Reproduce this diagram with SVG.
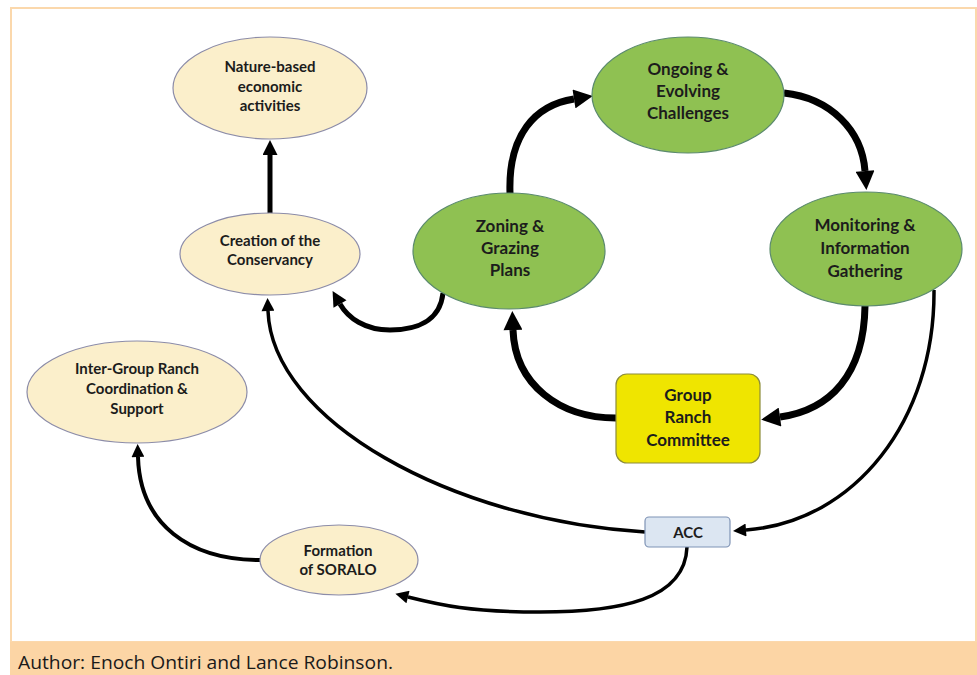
<svg xmlns="http://www.w3.org/2000/svg" width="977" height="675" viewBox="0 0 977 675">
<style>
.beige{fill:#FBEFCB;stroke:#8C8CA8;stroke-width:1.2}
.green{fill:#8FC152;stroke:#5B8A6E;stroke-width:1.2}
.t{font-family:Lato,"Open Sans","Liberation Sans",sans-serif;font-weight:bold;fill:#1c1c1c;text-anchor:middle}
.s14{font-size:15px}
.s16{font-size:17px}
.c{fill:none;stroke:#000;stroke-linecap:butt}
.w7{stroke-width:7}
.w5{stroke-width:5}
.w35{stroke-width:3.5}
</style>
<defs>
<marker id="aL" markerUnits="userSpaceOnUse" viewBox="0 0 10 10" refX="0" refY="5" markerWidth="20" markerHeight="19" orient="auto"><path d="M0,0 L10,5 L0,10 z" fill="#000"/></marker>
<marker id="aM" markerUnits="userSpaceOnUse" viewBox="0 0 10 10" refX="0" refY="5" markerWidth="16" markerHeight="15" orient="auto"><path d="M0,0 L10,5 L0,10 z" fill="#000"/></marker>
<marker id="aS" markerUnits="userSpaceOnUse" viewBox="0 0 10 10" refX="0" refY="5" markerWidth="14" markerHeight="13" orient="auto"><path d="M0,0 L10,5 L0,10 z" fill="#000"/></marker>
</defs>
<rect x="0" y="0" width="977" height="675" fill="#fff"/>
<rect x="11" y="8" width="965" height="634" fill="#fff" stroke="#FBD8AC" stroke-width="2"/>
<g id="footer">
<rect x="10" y="642" width="967" height="33" fill="#FCD5A5"/>
<text x="18" y="669" font-family="'Open Sans','Noto Sans','Liberation Sans',sans-serif" font-size="19" fill="#1a1a1a" textLength="375" lengthAdjust="spacingAndGlyphs">Author: Enoch Ontiri and Lance Robinson.</text>
</g>
<g id="connectors">
<path class="c w5" d="M270,214 L270,155" marker-end="url(#aM)"/>
<path class="c w7" d="M510,193 C508,135 535,105 574,99" marker-end="url(#aL)"/>
<path class="c w7" d="M784,93 C830,98 862,130 865,171" marker-end="url(#aL)"/>
<path class="c w7" d="M865,306 C864,375 830,410 780,417" marker-end="url(#aL)"/>
<path class="c w7" d="M616,418 C560,418 515,385 513,330" marker-end="url(#aL)"/>
<path class="c w5" d="M443,293 C440,322 415,330 390,330 C365,330 348,318 340,304" marker-end="url(#aM)"/>
<path class="c w35" d="M645,532 C450,520 272,420 268,311" marker-end="url(#aS)"/>
<path class="c w35" d="M934,290 C935,420 855,522 746,530" marker-end="url(#aS)"/>
<path class="c w35" d="M687,547 C685,600 620,612 540,612 C470,612 440,605 408,597" marker-end="url(#aS)"/>
<path class="c" stroke-width="4" d="M260,560 C190,560 140,525 138,457" marker-end="url(#aS)"/>
</g>
<g id="nature">
<ellipse class="beige" cx="270" cy="88" rx="97" ry="51"/>
<text class="t s14" x="270" y="72">Nature-based</text>
<text class="t s14" x="270" y="92">economic</text>
<text class="t s14" x="270" y="111">activities</text>
</g>
<g id="creation">
<ellipse class="beige" cx="270" cy="254" rx="90" ry="41"/>
<text class="t s14" x="270" y="246">Creation of the</text>
<text class="t s14" x="270" y="265">Conservancy</text>
</g>
<g id="ongoing">
<ellipse class="green" cx="688" cy="95" rx="96" ry="58"/>
<text class="t s16" x="688" y="75">Ongoing &amp;</text>
<text class="t s16" x="688" y="97">Evolving</text>
<text class="t s16" x="688" y="119">Challenges</text>
</g>
<g id="zoning">
<ellipse class="green" cx="509" cy="251" rx="96" ry="58"/>
<text class="t s16" x="510" y="232">Zoning &amp;</text>
<text class="t s16" x="510" y="254">Grazing</text>
<text class="t s16" x="510" y="276">Plans</text>
</g>
<g id="monitoring">
<ellipse class="green" cx="866" cy="249" rx="96" ry="57"/>
<text class="t s16" x="865" y="231">Monitoring &amp;</text>
<text class="t s16" x="865" y="254">Information</text>
<text class="t s16" x="865" y="277">Gathering</text>
</g>
<g id="grc">
<rect x="616" y="374" width="144" height="89" rx="11" fill="#EFE500" stroke="#8C8C3A" stroke-width="1.2"/>
<text class="t s16" x="688" y="401">Group</text>
<text class="t s16" x="688" y="423">Ranch</text>
<text class="t s16" x="688" y="446">Committee</text>
</g>
<g id="acc">
<rect x="645" y="517" width="85" height="30" rx="4" fill="#DCE6F2" stroke="#7F93B5" stroke-width="1.2"/>
<text class="t s14" x="688" y="538">ACC</text>
</g>
<g id="intergroup">
<ellipse class="beige" cx="137" cy="392" rx="110" ry="51"/>
<text class="t s14" x="137" y="374">Inter-Group Ranch</text>
<text class="t s14" x="137" y="394">Coordination &amp;</text>
<text class="t s14" x="137" y="414">Support</text>
</g>
<g id="soralo">
<ellipse class="beige" cx="339" cy="560" rx="79" ry="35"/>
<text class="t s14" x="338" y="556">Formation</text>
<text class="t s14" x="338" y="575">of SORALO</text>
</g>
</svg>
